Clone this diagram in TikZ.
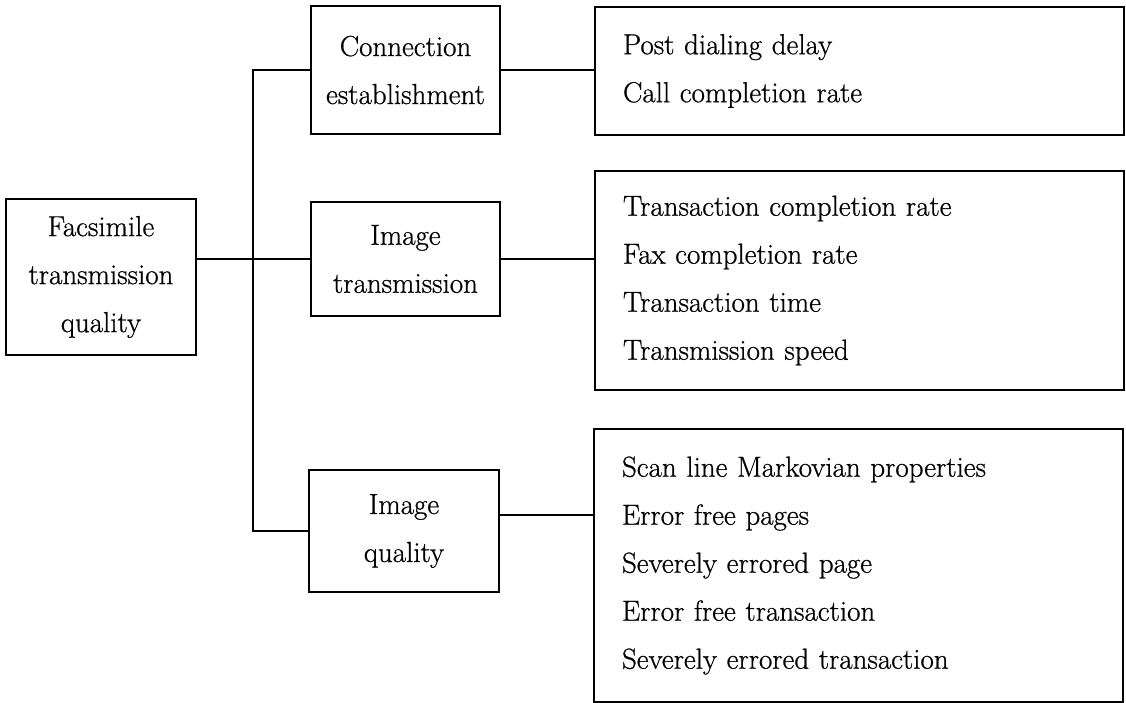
\documentclass[tikz,border=0pt]{standalone}
\usepackage{fontspec}
\newfontfamily\diagfont{Latin Modern Roman}[FakeBold=0.7]
\begin{document}
\begin{tikzpicture}[x=1pt,y=-1pt,
  every node/.style={font=\diagfont\fontsize{29pt}{48pt}\selectfont},
  midbox/.style={draw,line width=1.8pt,inner sep=0pt,align=center},
  listbox/.style={draw,line width=1.8pt,inner xsep=28pt,inner ysep=0pt,text width=473pt,align=left},
  conn/.style={line width=1.8pt}]
\useasboundingbox (0,0) rectangle (1126,703);
\node[midbox,minimum width=190pt,minimum height=156pt] (F) at (101,277) {Facsimile\\transmission\\quality};
\node[midbox,minimum width=189pt,minimum height=128pt] (C) at (405.5,70) {Connection\\establishment};
\node[midbox,minimum width=189pt,minimum height=114pt] (IT) at (405.5,259) {Image\\transmission};
\node[midbox,minimum width=190pt,minimum height=122pt] (IQ) at (404,531) {Image\\quality};
\node[listbox,minimum height=128pt] (R1) at (859.5,71) {Post dialing delay\\Call completion rate};
\node[listbox,minimum height=219pt] (R2) at (859.5,280.5) {Transaction completion rate\\Fax completion rate\\Transaction time\\Transmission speed};
\node[listbox,minimum height=273pt] (R3) at (858.5,565.5) {Scan line Markovian properties\\Error free pages\\Severely errored page\\Error free transaction\\Severely errored transaction};
\coordinate (tr) at (253,0);
\coordinate (q) at ([yshift=16pt]IQ.east);
\draw[conn] (IT.west) -- (IT.west -| F.east);
\draw[conn] (C.west) -- (C.west -| tr) -- (IQ.west -| tr) -- (IQ.west);
\draw[conn] (C.east) -- (C.east -| R1.west);
\draw[conn] (IT.east) -- (IT.east -| R2.west);
\draw[conn] (q) -- (q -| R3.west);
\end{tikzpicture}
\end{document}
